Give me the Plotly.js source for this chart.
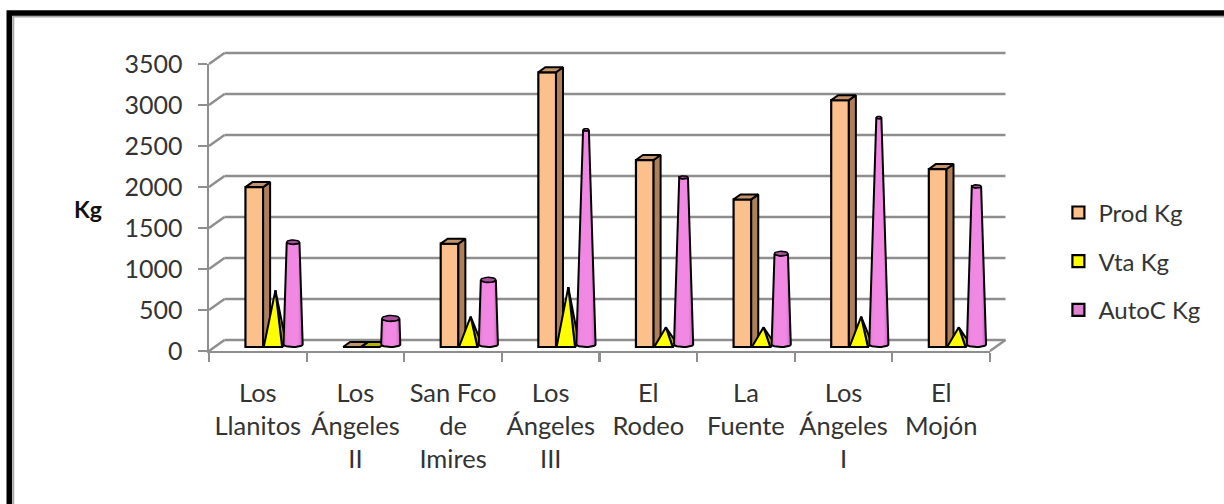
<!DOCTYPE html>
<html>
<head>
<meta charset="utf-8">
<script src="https://cdn.plot.ly/plotly-3.0.1.min.js"></script>
<style>html,body{margin:0;padding:0;background:#fff}</style>
</head>
<body>
<div id="chart" style="width:1224px;height:504px"></div>
<script>
const categories = ["Los<br>Llanitos","Los<br>Ángeles<br>II","San Fco<br>de<br>Imires","Los<br>Ángeles<br>III","El<br>Rodeo","La<br>Fuente","Los<br>Ángeles<br>I","El<br>Mojón"];
const prodKg = [1950,0,1260,3350,2280,1800,3010,2170];
const vtaKg = [690,0,370,730,240,240,370,240];
const autoCKg = [1280,350,820,2650,2070,1140,2800,1960];
const yTicks = [0,500,1000,1500,2000,2500,3000,3500];

// Pixel geometry of the front plane
const L = 208.5, R = 990.5, T = 63.5, B = 350.7;
const UX = (R - L) / 8, UY = (B - T) / 3500;
const BASE_UP = 4;           // bars stand this far up the floor
const X = (i, px) => i + px / UX;
const Y = (v, px) => v + px / UY;
const PX = px => (px - L) / (R - L);
const PY = py => (B - py) / (B - T);

function polys(list, color, lw, gradient) {
  const x = [], y = [];
  list.forEach(p => {
    p.forEach(q => { x.push(q[0]); y.push(q[1]); });
    x.push(p[0][0]); y.push(p[0][1]);
    x.push(null); y.push(null);
  });
  const t = {type:'scatter', mode:'lines', x, y, fill:'toself', fillcolor:color,
    line:{color:'#000', width:lw === undefined ? 2 : lw, shape:'linear'},
    cliponaxis:false, showlegend:false, hoverinfo:'skip'};
  if (gradient) t.fillgradient = gradient;
  return t;
}

// Prod Kg: square column
const pA = 36.5, pW = 17.7, pDX = 7, pDY = 5;
const prodSide = [], prodTop = [];
prodKg.forEach((v,i) => {
  prodSide.push([[X(i,pA+pW),Y(0,BASE_UP)],[X(i,pA+pW),Y(v,BASE_UP)],[X(i,pA+pW+pDX),Y(v,BASE_UP+pDY)],[X(i,pA+pW+pDX),Y(0,BASE_UP+pDY)]]);
  prodTop.push([[X(i,pA),Y(v,BASE_UP)],[X(i,pA+pW),Y(v,BASE_UP)],[X(i,pA+pW+pDX),Y(v,BASE_UP+pDY)],[X(i,pA+pDX),Y(v,BASE_UP+pDY)]]);
});

// Vta Kg: pyramid
const vA = 54.8, vW = 18.4, vApex = 66.5;
const vtaSide = [], vtaFront = [];
vtaKg.forEach((v,i) => {
  if (v === 0) {
    vtaSide.push([[X(i,vA),Y(0,BASE_UP)],[X(i,vA+vW),Y(0,BASE_UP)],[X(i,vA+vW+pDX),Y(0,BASE_UP+pDY)],[X(i,vA+pDX),Y(0,BASE_UP+pDY)]]);
  } else {
    vtaSide.push([[X(i,vA+vW),Y(0,BASE_UP)],[X(i,vApex),Y(v,BASE_UP)],[X(i,vA+vW+4),Y(0,BASE_UP+4)]]);
    vtaFront.push([[X(i,vA),Y(0,BASE_UP)],[X(i,vA+vW),Y(0,BASE_UP)],[X(i,vApex),Y(v,BASE_UP)]]);
  }
});

// AutoC Kg: truncated cone
const cC = 84.2, cR = 9.6, cRy = 2.6, cMax = 3800;
const coneGrad = {type:'horizontal', colorscale:[[0,'#D56FC8'],[0.2,'#F088E2'],[0.75,'#F288E4'],[1,'#C965BE']]};
const coneTraces = [];
autoCKg.forEach((v,i) => {
  const r = cR * (1 - v / cMax), ry = Math.max(1.2, r * 0.33);
  const body = [];
  for (let k = 0; k <= 12; k++) {
    const a = Math.PI * k / 12;
    body.push([X(i,cC - cR*Math.cos(a)), Y(0,BASE_UP + cRy - cRy*Math.sin(a))]);
  }
  for (let k = 0; k <= 12; k++) {
    const a = Math.PI * k / 12;
    body.push([X(i,cC + r*Math.cos(a)), Y(v,BASE_UP - ry*Math.sin(a))]);
  }
  coneTraces.push(polys([body], '#F084E0', 2, coneGrad));
  const top = [];
  for (let k = 0; k < 24; k++) {
    const a = 2 * Math.PI * k / 24;
    top.push([X(i,cC + r*Math.cos(a)), Y(v,BASE_UP + ry*Math.sin(a))]);
  }
  coneTraces.push(polys([top], '#A8509C', 1.4));
});

const midX = categories.map((c,i) => i + 0.5);
const traces = [
  {type:'bar', name:'Prod Kg', x:prodKg.map((v,i)=>X(i,pA+pW/2)), y:prodKg, base:prodKg.map(()=>BASE_UP/UY),
   width:pW/UX, marker:{color:'#FCC08C', line:{color:'#000', width:2.2}}, legendgroup:'a', cliponaxis:false, hoverinfo:'skip'},
  {type:'bar', name:'Vta Kg', x:vtaKg.map((v,i)=>X(i,vApex)), y:vtaKg, base:vtaKg.map(()=>BASE_UP/UY),
   width:0, marker:{color:'#FFFF00', line:{color:'#000', width:2.2}}, legendgroup:'b', cliponaxis:false, hoverinfo:'skip'},
  {type:'bar', name:'AutoC Kg', x:autoCKg.map((v,i)=>X(i,cC)), y:autoCKg, base:autoCKg.map(()=>BASE_UP/UY),
   width:0, marker:{color:'#DE82D2', line:{color:'#000', width:2.2}}, legendgroup:'c', cliponaxis:false, hoverinfo:'skip'},
  polys(prodSide, '#AF8058'),
  polys(prodTop, '#C4946A'),
  polys(vtaSide, '#B4B400'),
  polys(vtaFront, '#FFFF00')
].concat(coneTraces);

// Walls and frame
const DX = 15.5, DY = 11, GRID = '#8e8e8e';
const gl = (x0,y0,x1,y1) => ({type:'line', xref:'paper', yref:'paper', x0, y0, x1, y1, layer:'below', line:{color:GRID, width:2.4}});
const dxp = DX / (R - L), dyp = DY / (B - T);
const shapes = [];
yTicks.forEach(t => {
  const p = t / 3500;
  shapes.push(gl(0, p, dxp, p + dyp));
  shapes.push(gl(dxp, p + dyp, 1 + dxp, p + dyp));
});
shapes.push(gl(1, 0, 1 + dxp, dyp));
shapes.push({type:'rect', xref:'paper', yref:'paper', x0:PX(12.5), x1:PX(1240), y0:PY(16), y1:PY(530), layer:'below', line:{color:'#a8a8a8', width:2}});
shapes.push({type:'rect', xref:'paper', yref:'paper', x0:PX(8.5), x1:PX(1240), y0:PY(12.5), y1:PY(530), layer:'below', line:{color:'#000', width:5.5}});

const layout = {
  width:1224, height:504,
  margin:{l:L, r:1224-R, t:T, b:504-B, pad:0},
  paper_bgcolor:'#fff', plot_bgcolor:'rgba(0,0,0,0)',
  barmode:'overlay', hovermode:false, showlegend:true,
  font:{family:'Lato, "Noto Sans", sans-serif', color:'#333', size:25},
  xaxis:{range:[0,8], showgrid:false, zeroline:false, showline:true, linecolor:GRID, linewidth:2.4,
    tickmode:'array', tickvals:midX, ticktext:categories, ticks:'', ticklabelstandoff:18, tickangle:0,
    tickfont:{size:25.5, family:'Lato', color:'#333'},
    minor:{tickmode:'linear', tick0:0, dtick:1, ticks:'outside', ticklen:9, tickwidth:2.2, tickcolor:GRID, showgrid:false}},
  yaxis:{range:[0,3500], showgrid:false, zeroline:false, showline:true, linecolor:GRID, linewidth:2.4,
    tickmode:'array', tickvals:yTicks, ticks:'outside', ticklen:9, tickwidth:2.2, tickcolor:GRID, ticklabelstandoff:10,
    tickfont:{size:25, family:'Lato', color:'#333'}},
  legend:{x:PX(1059), xanchor:'left', y:PY(190), yanchor:'top', bgcolor:'rgba(0,0,0,0)', borderwidth:0,
    tracegroupgap:14.5, font:{size:24, family:'Lato', color:'#333'}},
  shapes,
  annotations:[{text:'<b>Kg</b>', xref:'paper', yref:'paper', x:PX(87), y:PY(209), xanchor:'center', yanchor:'middle',
    showarrow:false, font:{size:23, family:'Lato', color:'#111'}}]
};
Plotly.newPlot('chart', traces, layout, {displayModeBar:false, staticPlot:true});
</script>
</body>
</html>
